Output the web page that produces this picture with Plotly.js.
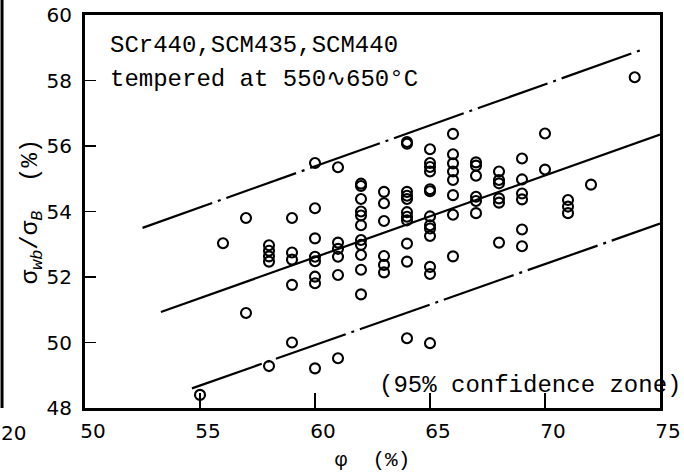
<!DOCTYPE html>
<html>
<head>
<meta charset="utf-8">
<script src="https://cdn.plot.ly/plotly-3.0.1.min.js"></script>
<style>
  html, body { margin: 0; padding: 0; background: #ffffff; }
  #chart { width: 684px; height: 472px; }
</style>
</head>
<body>
<div id="chart"></div>
<script>
// Reduction of area phi (%) for each specimen
const phi = [
  55,
  56,
  57, 57,
  58, 58, 58, 58, 58,
  59, 59, 59, 59, 59,
  60, 60, 60, 60, 60, 60, 60, 60,
  61, 61, 61, 61, 61, 61,
  62, 62, 62, 62, 62, 62, 62, 62, 62, 62, 62,
  63, 63, 63, 63, 63, 63,
  64, 64, 64, 64, 64, 64, 64, 64, 64, 64, 64,
  65, 65, 65, 65, 65, 65, 65, 65, 65, 65, 65, 65, 65,
  66, 66, 66, 66, 66, 66, 66, 66,
  67, 67, 67, 67, 67, 67,
  68, 68, 68, 68, 68, 68,
  69, 69, 69, 69, 69, 69,
  70, 70,
  71, 71, 71,
  72,
  73.9
];
// Fatigue ratio sigma_wb / sigma_B (%)
const ratio = [
  48.4,
  53.03,
  53.8, 50.9,
  52.97, 52.8, 52.63, 52.47, 49.28,
  53.8, 52.75, 52.53, 51.76, 50.0,
  55.48, 54.1, 53.18, 52.62, 52.48, 52.01, 51.81, 49.21,
  55.35, 53.05, 52.86, 52.62, 52.06, 49.52,
  54.85, 54.78, 54.38, 54.0, 53.88, 53.58, 53.13, 52.98, 52.67, 52.22, 51.47,
  54.6, 54.25, 53.71, 52.64, 52.37, 52.14,
  56.12, 56.07, 54.6, 54.48, 54.38, 53.98, 53.84, 53.73, 53.02, 52.47, 50.13,
  55.9, 55.48, 55.36, 55.22, 54.68, 54.62, 53.85, 53.58, 53.48, 53.25, 52.31, 52.09, 49.98,
  56.37, 55.75, 55.47, 55.22, 54.96, 54.5, 53.9, 52.63,
  55.5, 55.4, 55.09, 54.45, 54.32, 53.95,
  55.22, 54.96, 54.86, 54.4, 54.27, 53.05,
  55.62, 54.98, 54.55, 54.37, 53.45, 52.94,
  56.38, 55.28,
  54.35, 54.15, 53.95,
  54.82,
  58.1
];
// Regression line and 95% confidence limits
const regX = [53.3, 75];
const regY = [50.93, 56.35];
const upperX = [52.5, 74.3];
const upperY = [53.5, 58.96];
const lowerX = [54.65, 75];
const lowerY = [48.6, 53.63];

const xTicks = [50, 55, 60, 65, 70, 75];
const yTicks = [48, 50, 52, 54, 56, 58, 60];

const monoFont = 'Liberation Mono, DejaVu Sans Mono, monospace';
const tickFont = { family: 'DejaVu Sans, sans-serif', size: 20, color: '#000' };
const dashDot = '74px,6px,3px,6px';

const traces = [
  { x: upperX, y: upperY, mode: 'lines', line: { color: '#000', width: 2.2, dash: dashDot }, hoverinfo: 'skip', showlegend: false },
  { x: regX, y: regY, mode: 'lines', line: { color: '#000', width: 2.2 }, hoverinfo: 'skip', showlegend: false },
  { x: lowerX, y: lowerY, mode: 'lines', line: { color: '#000', width: 2.2, dash: dashDot }, hoverinfo: 'skip', showlegend: false },
  { x: phi, y: ratio, mode: 'markers', type: 'scatter',
    marker: { symbol: 'circle-open', size: 10, color: '#000', line: { width: 2.1, color: '#000' } },
    cliponaxis: false, showlegend: false }
];

const layout = {
  width: 684, height: 472,
  margin: { l: 85, r: 24, t: 15, b: 64, pad: 0 },
  paper_bgcolor: '#fff', plot_bgcolor: '#fff',
  showlegend: false,
  xaxis: {
    range: [50, 75], tickvals: xTicks, ticktext: xTicks.map(String),
    showgrid: false, zeroline: false,
    showline: true, linewidth: 3, linecolor: '#000', mirror: true,
    ticks: 'inside', ticklen: 15, tickwidth: 1.8, tickcolor: '#000',
    tickfont: tickFont, ticklabelshift: 8, ticklabelstandoff: 3,
    title: { text: 'φ  (%)', font: { family: monoFont, size: 21, color: '#000' }, standoff: 10 }
  },
  yaxis: {
    range: [48, 60], tickvals: yTicks, ticktext: yTicks.map(String),
    showgrid: false, zeroline: false,
    showline: true, linewidth: 3, linecolor: '#000', mirror: true,
    ticks: 'inside', ticklen: 11, tickwidth: 1.8, tickcolor: '#000',
    tickfont: tickFont, ticklabelstandoff: 6,
    title: { text: 'σ<sub><i>wb</i></sub>/σ<sub><i>B</i></sub>  (%)', font: { family: monoFont, size: 24, color: '#000' }, standoff: 2 }
  },
  annotations: [
    { text: 'SCr440,SCM435,SCM440', x: 51.0, y: 59.08, xref: 'x', yref: 'y', xanchor: 'left', yanchor: 'middle', showarrow: false, font: { family: monoFont, size: 24, color: '#000' } },
    { text: 'tempered at 550∿650°C', x: 51.0, y: 58.02, xref: 'x', yref: 'y', xanchor: 'left', yanchor: 'middle', showarrow: false, font: { family: monoFont, size: 24, color: '#000' } },
    { text: '(95% confidence zone)', x: 62.7, y: 48.7, xref: 'x', yref: 'y', xanchor: 'left', yanchor: 'middle', showarrow: false, font: { family: monoFont, size: 24, color: '#000' } },
    { text: '20', x: -0.125, y: -0.063, xref: 'paper', yref: 'paper', xanchor: 'center', yanchor: 'middle', showarrow: false, font: tickFont }
  ],
  shapes: [
    { type: 'line', xref: 'paper', yref: 'paper', x0: -0.1443, x1: -0.1443, y0: 0, y1: 1.04, line: { color: '#000', width: 3 } }
  ]
};

Plotly.newPlot('chart', traces, layout, { staticPlot: true, displayModeBar: false });
</script>
</body>
</html>
